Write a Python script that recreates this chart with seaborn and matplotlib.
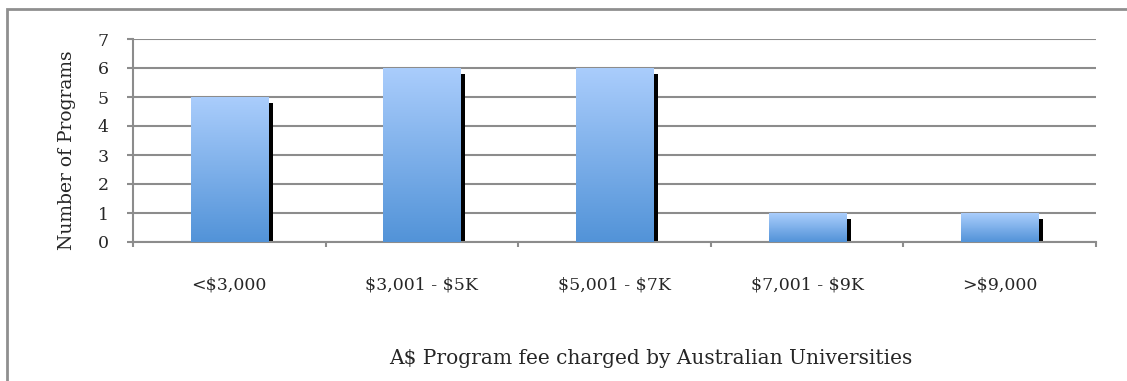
import numpy as np
import pandas as pd
import matplotlib
matplotlib.use("Agg")
import matplotlib.pyplot as plt
import matplotlib.patches as mpatches
import matplotlib.transforms as mtransforms
from matplotlib.colors import LinearSegmentedColormap
import seaborn as sns

# Fee bands and number of programs in each
fee_bands = ["<$3,000", "$3,001 - $5K", "$5,001 - $7K", "$7,001 - $9K", ">$9,000"]
program_counts = [5, 6, 6, 1, 1]
y_ticks = [0, 1, 2, 3, 4, 5, 6, 7]

df = pd.DataFrame({"band": fee_bands, "count": program_counts})

sns.set_theme(style="white")
plt.rcParams["font.family"] = ["DejaVu Serif"]
plt.rcParams["text.parse_math"] = False

W, H = 1127, 381
fig = plt.figure(figsize=(W / 100, H / 100), dpi=100)
ax = fig.add_axes([133 / W, 1 - 242 / H, (1096 - 133) / W, (242 - 39) / H])

grid_gray = "#8c8c8c"
n = len(fee_bands)

sns.barplot(data=df, x="band", y="count", ax=ax, width=0.4,
            color="#6fa6e6", edgecolor="none", zorder=3)

ax.set_xlim(-0.5, n - 0.5)
ax.set_ylim(0, 7)

cmap = LinearSegmentedColormap.from_list("bar_grad", ["#5293d8", "#aacdfc"])
grad = np.linspace(0, 1, 256).reshape(-1, 1)

# Shadows are shifted a few pixels right and down, then cut at the baseline
shadow_tf = mtransforms.offset_copy(ax.transData, fig=fig, x=5, y=-5.5, units="dots")
clip_rect = mpatches.Rectangle((-0.5, 0), n, 7, transform=ax.transData)

for p in list(ax.patches):
    x0, y0 = p.get_x(), p.get_y()
    w, h = p.get_width(), p.get_height()
    sh = mpatches.Rectangle((x0, y0), w, h, transform=shadow_tf,
                            facecolor="black", edgecolor="none", zorder=2)
    ax.add_patch(sh)
    sh.set_clip_path(clip_rect)
    # vertical gradient fill
    im = ax.imshow(grad, cmap=cmap, origin="lower", aspect="auto",
                   extent=[x0, x0 + w, y0, y0 + h], zorder=4, interpolation="bicubic")
    im.set_clip_path(p)

ax.set_xlim(-0.5, n - 0.5)
ax.set_ylim(0, 7)

# Horizontal gridlines
ax.set_yticks(y_ticks)
ax.set_yticklabels([str(t) for t in y_ticks], fontsize=12.5)
ax.yaxis.grid(True, color=grid_gray, linewidth=1.5, zorder=0)
ax.set_axisbelow(True)

# Category ticks sit on the boundaries between bands
ax.set_xticks(range(n))
ax.set_xticklabels(fee_bands, fontsize=12.5)
ax.set_xticks(np.arange(-0.5, n, 1.0), minor=True)
ax.tick_params(axis="x", which="major", length=0, pad=24.5)
ax.tick_params(axis="x", which="minor", bottom=True, length=3.8, width=1.5,
               color=grid_gray, direction="out")
ax.tick_params(axis="y", which="major", left=True, length=4.3, width=1.5,
               color=grid_gray, direction="out", pad=13)

for s in ["top", "right"]:
    ax.spines[s].set_visible(False)
for s in ["left", "bottom"]:
    ax.spines[s].set_color(grid_gray)
    ax.spines[s].set_linewidth(1.5)

ax.set_xlabel("A$ Program fee charged by Australian Universities", fontsize=14.5)
ax.xaxis.set_label_coords((651 - 133) / 963, 1 - (349 - 39) / 203)
ax.set_ylabel("Number of Programs", fontsize=13.5)
ax.yaxis.set_label_coords((76 - 133) / 963, 1 - (150 - 39) / 203)

# Outer chart frame
frame = mpatches.Rectangle((7 / W, -0.1), 1.2, 1 - 9 / H + 0.1, transform=fig.transFigure,
                           facecolor="none", edgecolor="#8f8f8f", linewidth=2.0)
fig.patches.append(frame)

fig.savefig("out.png", dpi=100, facecolor="white")
